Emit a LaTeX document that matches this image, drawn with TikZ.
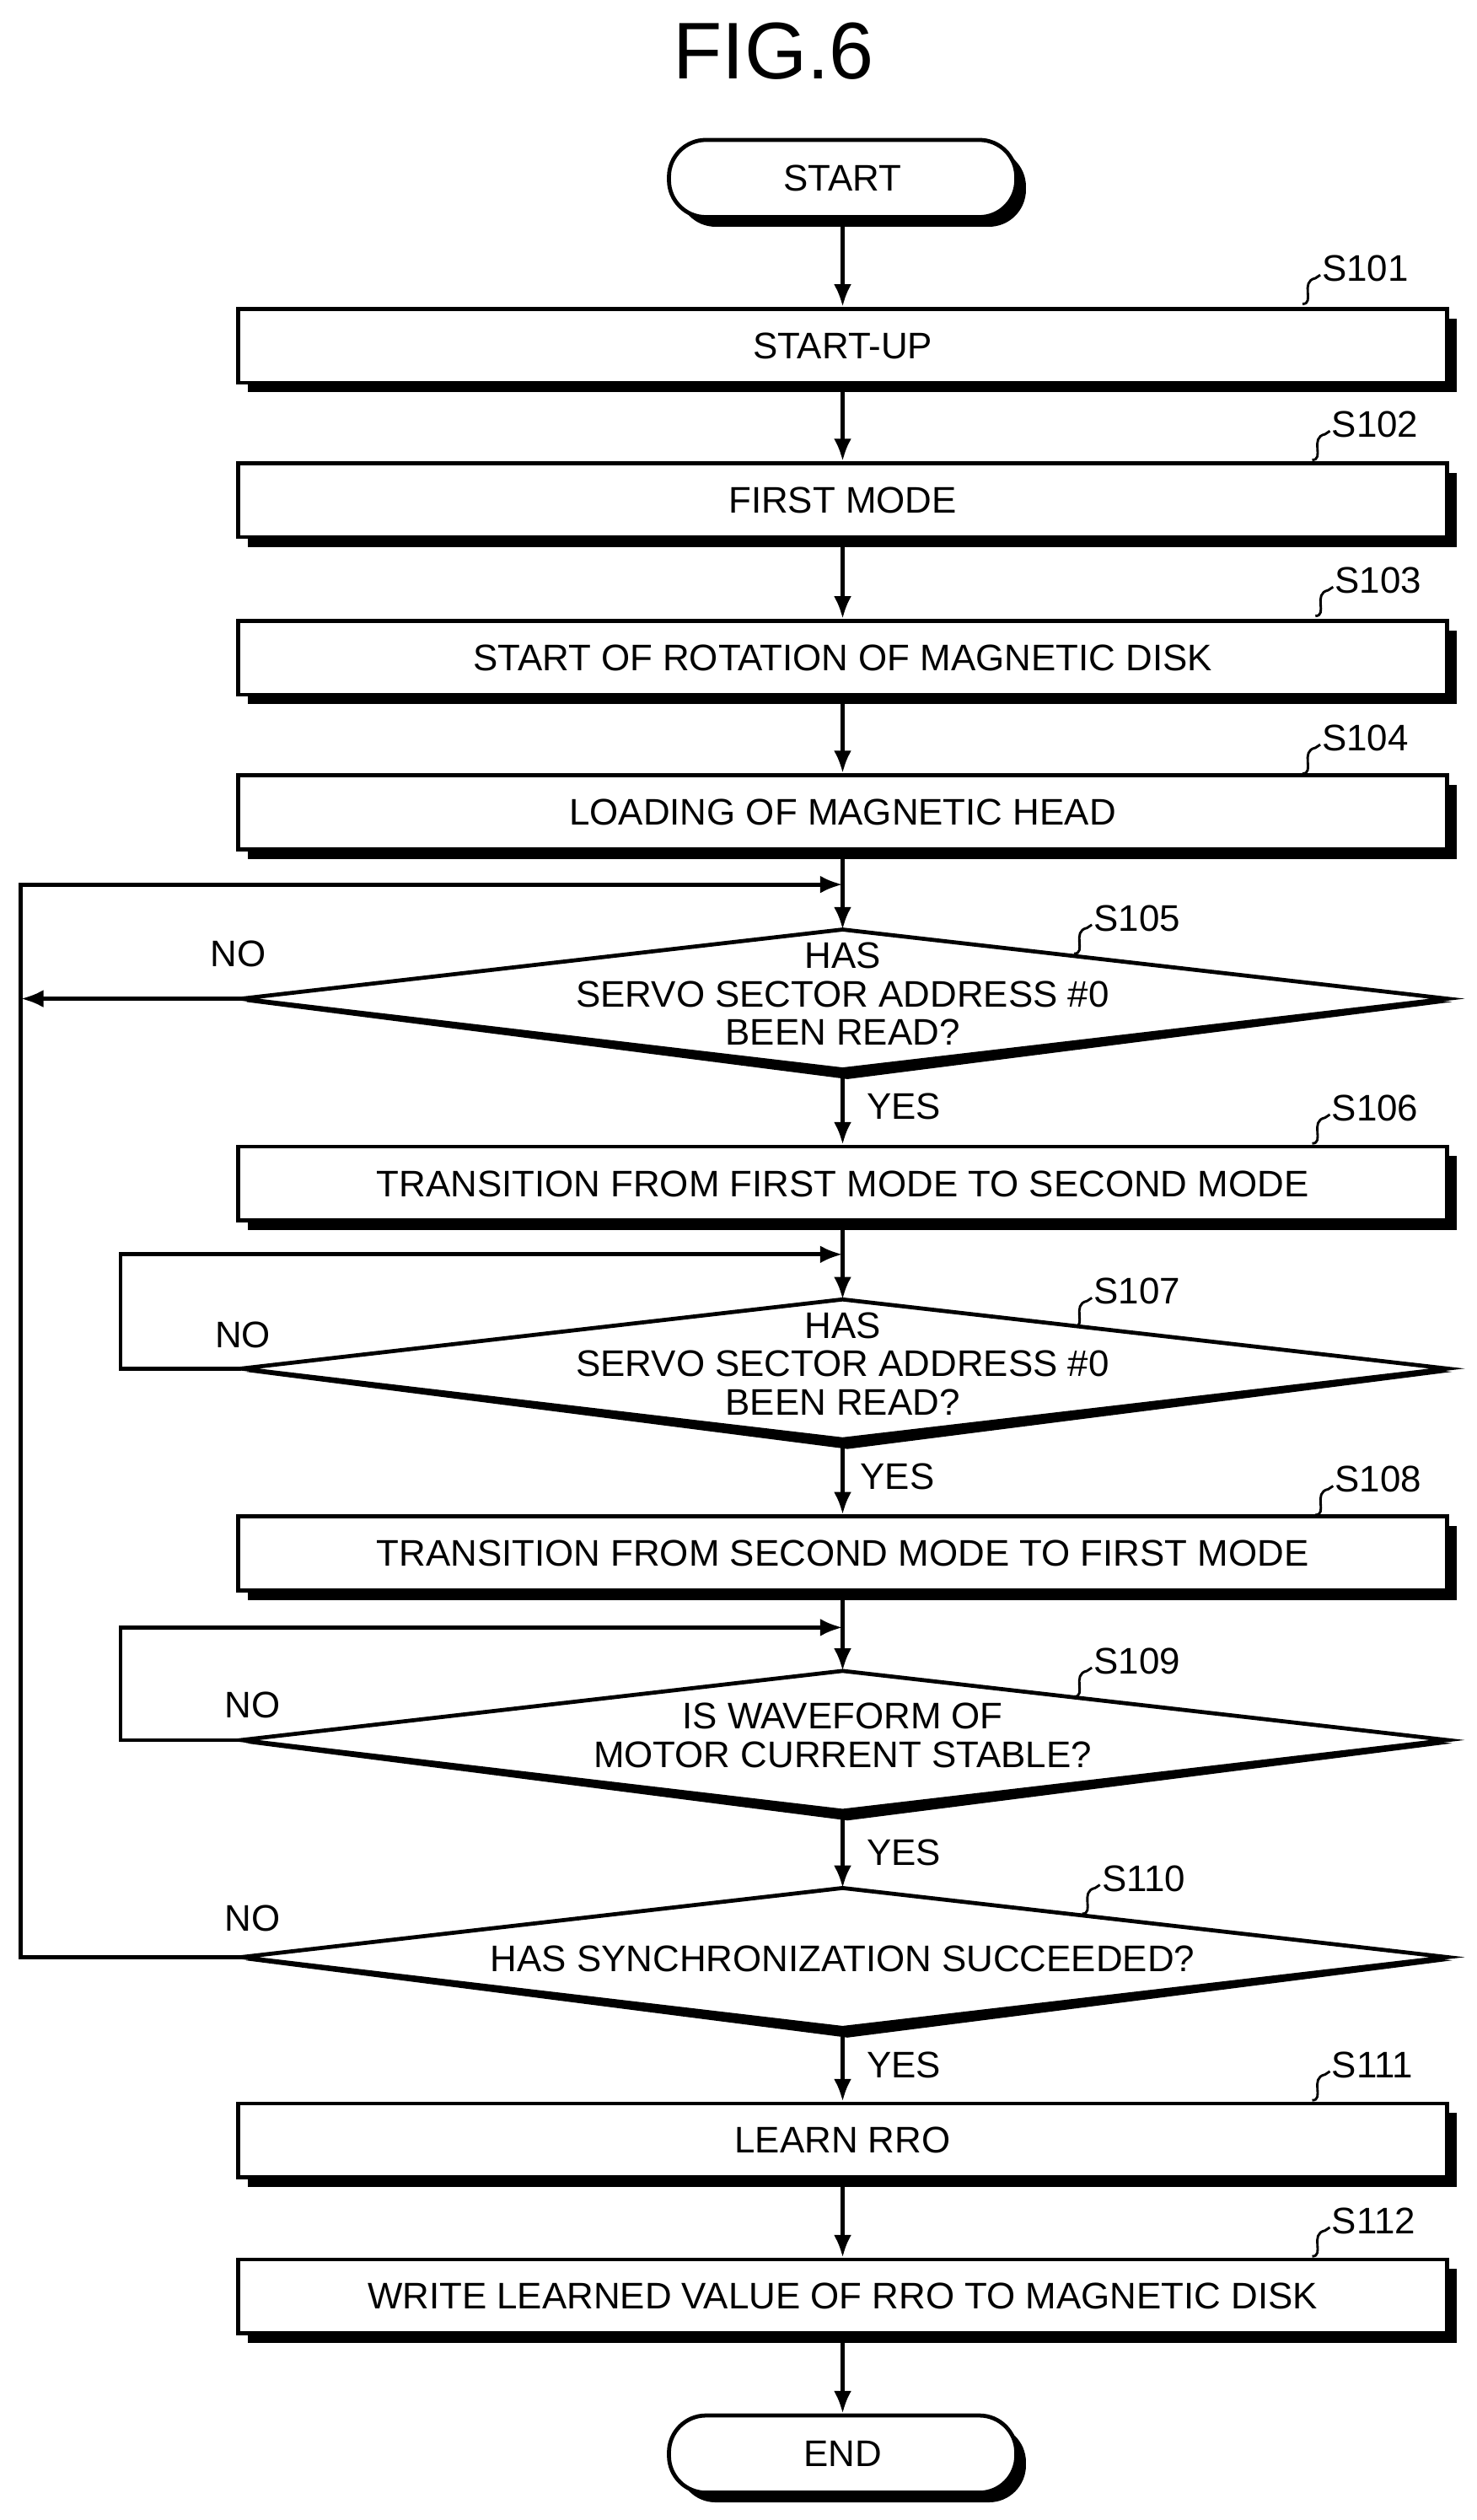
\documentclass[tikz,border=0pt]{standalone}
\usepackage{fontspec}
\setmainfont{Liberation Sans}
\usetikzlibrary{arrows.meta,calc}
\begin{document}
\begin{tikzpicture}[x=1pt,y=-1pt,
  ln/.style={line width=2.5pt},
  arr/.style={ln,-{Latex[length=14pt,width=11pt]}},
  txt/.style={font=\fontsize{23}{24}\selectfont,align=center,inner sep=0pt},
  box/.style={draw,line width=2.5pt,fill=white,minimum width=752pt,minimum height=46pt,inner sep=0pt},
  term/.style={draw,line width=2.5pt,fill=white,rounded corners=23pt,minimum width=216pt,minimum height=48pt,inner sep=0pt}]
\useasboundingbox (0,0) rectangle (918,1567);
\node[font=\fontsize{50}{56}\selectfont] (title) at (481,32) {FIG.6};
\newcommand{\shbox}[3]{%
  \fill (#2+6,#3+6) ++(-376,-23) rectangle ++(752,46);
  \node[box] (#1) at (#2,#3) {};}
\newcommand{\shterm}[3]{%
  \fill[rounded corners=23pt] (#2+6,#3+6) ++(-108,-24) rectangle ++(216,48);
  \node[term] (#1) at (#2,#3) {};}
\newcommand{\dia}[2]{%
  \coordinate (#1-t) at (524,#2-43);
  \coordinate (#1-b) at (524,#2+44);
  \coordinate (#1-l) at (150,#2);
  \coordinate (#1-r) at (900,#2);
  \fill (153,#2+2) -- (524,#2-41) -- (903,#2+2) -- (527,#2+50) -- cycle;
  \draw[ln,fill=white,line join=miter] (#1-t) -- (#1-r) -- (#1-b) -- (#1-l) -- cycle;}
\newcommand{\slab}[3]{%
  \draw[line width=1.5pt] (#1-12,#2+22) .. controls (#1-4,#2+22) and (#1-14,#2+8) .. (#1-4,#2+6) -- (#1-1,#2+4);
  \node[txt,anchor=west] at (#1,#2) {#3};}

\shterm{start}{524}{111}
\node[txt] at (start) {START};
\shbox{s101}{524}{215} \node[txt] at (s101) {START-UP};
\shbox{s102}{524}{311} \node[txt] at (s102) {FIRST MODE};
\shbox{s103}{524}{409} \node[txt] at (s103) {START OF ROTATION OF MAGNETIC DISK};
\shbox{s104}{524}{505} \node[txt] at (s104) {LOADING OF MAGNETIC HEAD};
\dia{d5}{621}
\node[txt] (d5t) at (524,618) {HAS\\SERVO SECTOR ADDRESS \#0\\BEEN READ?};
\shbox{s106}{524}{736} \node[txt] at (s106) {TRANSITION FROM FIRST MODE TO SECOND MODE};
\dia{d7}{851}
\node[txt] (d7t) at (524,848) {HAS\\SERVO SECTOR ADDRESS \#0\\BEEN READ?};
\shbox{s108}{524}{966} \node[txt] at (s108) {TRANSITION FROM SECOND MODE TO FIRST MODE};
\dia{d9}{1082}
\node[txt] (d9t) at (524,1079) {IS WAVEFORM OF\\MOTOR CURRENT STABLE?};
\dia{d10}{1217}
\node[txt] (d10t) at (524,1218) {HAS SYNCHRONIZATION SUCCEEDED?};
\shbox{s111}{524}{1331} \node[txt] at (s111) {LEARN RRO};
\shbox{s112}{524}{1428} \node[txt] at (s112) {WRITE LEARNED VALUE OF RRO TO MAGNETIC DISK};
\shterm{end}{524}{1526}
\node[txt] at (end) {END};

\slab{822}{167}{S101}
\slab{828}{264}{S102}
\slab{830}{361}{S103}
\slab{822}{459}{S104}
\slab{680}{571}{S105}
\slab{828}{689}{S106}
\slab{680}{803}{S107}
\slab{830}{920}{S108}
\slab{680}{1033}{S109}
\slab{685}{1168}{S110}
\slab{828}{1284}{S111}
\slab{828}{1381}{S112}

\draw[arr] (start) -- (s101);
\draw[arr] (s101) -- (s102);
\draw[arr] (s102) -- (s103);
\draw[arr] (s103) -- (s104);
\draw[arr] (s104) -- (d5-t);
\draw[arr] (d5-b) -- (s106);
\draw[arr] (s106) -- (d7-t);
\draw[arr] (d7-b) -- (s108);
\draw[arr] (s108) -- (d9-t);
\draw[arr] (d9-b) -- (d10-t);
\draw[arr] (d10-b) -- (s111);
\draw[arr] (s111) -- (s112);
\draw[arr] (s112) -- (end);

\coordinate (j5) at (524,550);
\coordinate (j7) at (524,780);
\coordinate (j9) at (524,1012);
\draw[arr] (d5-l) -- (13,621);
\draw[arr] (d10-l) -- (13,1217) -- (13,550) -- (j5);
\draw[arr] (d7-l) -- (75,851) -- (75,780) -- (j7);
\draw[arr] (d9-l) -- (75,1082) -- (75,1012) -- (j9);

\node[txt] at (148,593) {NO};
\node[txt] at (151,830) {NO};
\node[txt] at (157,1060) {NO};
\node[txt] at (157,1193) {NO};
\node[txt] at (562,688) {YES};
\node[txt] at (558,918) {YES};
\node[txt] at (562,1152) {YES};
\node[txt] at (562,1284) {YES};
\end{tikzpicture}
\end{document}
